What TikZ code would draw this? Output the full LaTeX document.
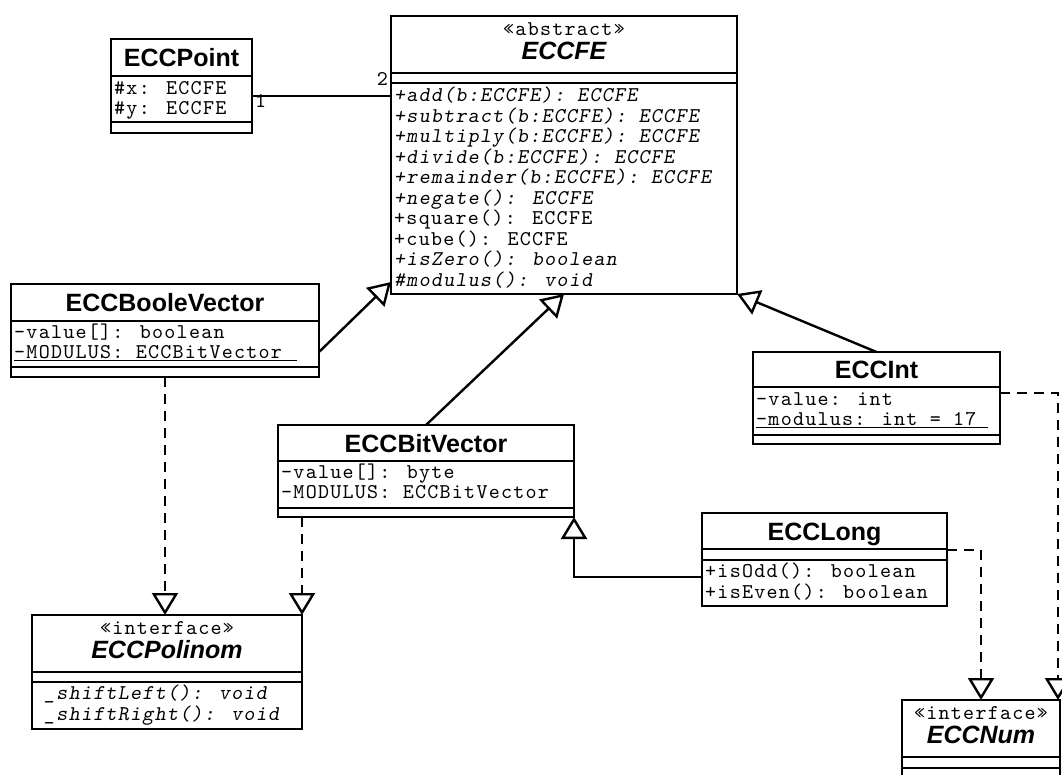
\documentclass[tikz,border=0pt]{standalone}
\usepackage{fontspec}
\usetikzlibrary{arrows.meta,calc}
\newfontfamily\monof{lmmono10-regular.otf}[ItalicFont=lmmonoslant10-regular.otf, LetterSpace=6]
\newfontfamily\sansf{Liberation Sans}
\newcommand\mtxt{\monof\fontsize{21}{20.5}\selectfont}
\newcommand\ttxt{\sansf\bfseries\fontsize{25}{25}\selectfont}
\newcommand\itxt{\sansf\bfseries\itshape\fontsize{25}{25}\selectfont}
\tikzset{
  cls/.style={draw, line width=2.4pt, fill=white, inner sep=0pt, outer sep=0pt, anchor=north west},
  secline/.style={line width=2.4pt},
  mono/.style={font=\mtxt, inner sep=0pt, anchor=base west},
  imono/.style={font=\mtxt\itshape, inner sep=0pt, anchor=base west},
  stereo/.style={font=\mtxt, inner sep=0pt, anchor=base},
  ttl/.style={font=\ttxt, inner sep=0pt, anchor=base},
  ittl/.style={font=\itxt, inner sep=0pt, anchor=base},
  gen/.style={line width=2.4pt, -{Triangle[length=22pt, width=26pt, fill=white]}},
  real/.style={gen, dash pattern=on 10pt off 7pt},
  assoc/.style={line width=2.4pt},
  uline/.style={line width=1.3pt},
}
\begin{document}
\begin{tikzpicture}[x=1pt, y=-1pt]
\clip (0,0) rectangle (1062,775);
\fill[white] (0,0) rectangle (1062,775);

% ---------- class boxes ----------
\node[cls, minimum width=141pt, minimum height=94pt] (pt) at (111,39) {};
\draw[secline] ([yshift=-37pt]pt.north west) -- ([yshift=-37pt]pt.north east);
\draw[secline] ([yshift=-83pt]pt.north west) -- ([yshift=-83pt]pt.north east);

\node[cls, minimum width=346pt, minimum height=278pt] (fe) at (391,16) {};
\draw[secline] ([yshift=-57pt]fe.north west) -- ([yshift=-57pt]fe.north east);
\draw[secline] ([yshift=-67pt]fe.north west) -- ([yshift=-67pt]fe.north east);

\node[cls, minimum width=308pt, minimum height=93pt] (bv) at (11,284) {};
\draw[secline] ([yshift=-37pt]bv.north west) -- ([yshift=-37pt]bv.north east);
\draw[secline] ([yshift=-83pt]bv.north west) -- ([yshift=-83pt]bv.north east);

\node[cls, minimum width=296pt, minimum height=92pt] (bit) at (278,425) {};
\draw[secline] ([yshift=-36pt]bit.north west) -- ([yshift=-36pt]bit.north east);
\draw[secline] ([yshift=-83pt]bit.north west) -- ([yshift=-83pt]bit.north east);

\node[cls, minimum width=247pt, minimum height=92pt] (int) at (753,352) {};
\draw[secline] ([yshift=-35pt]int.north west) -- ([yshift=-35pt]int.north east);
\draw[secline] ([yshift=-83pt]int.north west) -- ([yshift=-83pt]int.north east);

\node[cls, minimum width=245pt, minimum height=93pt] (long) at (702,513) {};
\draw[secline] ([yshift=-36pt]long.north west) -- ([yshift=-36pt]long.north east);
\draw[secline] ([yshift=-47pt]long.north west) -- ([yshift=-47pt]long.north east);

\node[cls, minimum width=270pt, minimum height=114pt] (pol) at (32,615) {};
\draw[secline] ([yshift=-57pt]pol.north west) -- ([yshift=-57pt]pol.north east);
\draw[secline] ([yshift=-67pt]pol.north west) -- ([yshift=-67pt]pol.north east);

\node[cls, minimum width=158pt, minimum height=100pt] (num) at (902,700) {};
\draw[secline] ([yshift=-57pt]num.north west) -- ([yshift=-57pt]num.north east);
\draw[secline] ([yshift=-68pt]num.north west) -- ([yshift=-68pt]num.north east);

% ---------- texts ----------
\node[ttl] (ptT) at (181.5,66.5) {ECCPoint};
\node[mono] (pt1) at (114,94.3) {\#x: ECCFE};
\node[mono] (pt2) at (114,114.5) {\#y: ECCFE};

\node[stereo] (feS) at (564,35.5) {«abstract»};
\node[ittl] (feT) at (564,59.5) {ECCFE};
\node[imono] (fe1) at (394,102) {+add(b:ECCFE): ECCFE};
\node[imono] (fe2) at (394,122.5) {+subtract(b:ECCFE): ECCFE};
\node[imono] (fe3) at (394,143) {+multiply(b:ECCFE): ECCFE};
\node[imono] (fe4) at (394,163.5) {+divide(b:ECCFE): ECCFE};
\node[imono] (fe5) at (394,184) {+remainder(b:ECCFE): ECCFE};
\node[imono] (fe6) at (394,204.5) {+negate(): ECCFE};
\node[mono]  (fe7) at (394,225) {+square(): ECCFE};
\node[mono]  (fe8) at (394,245.5) {+cube(): ECCFE};
\node[imono] (fe9) at (394,266) {+isZero(): boolean};
\node[imono] (fe10) at (394,286.5) {\#modulus(): void};

\node[ttl] (bvT) at (165,311.5) {ECCBooleVector};
\node[mono] (bv1) at (14,338.3) {-value[]: boolean};
\node[mono] (bv2) at (14,358.3) {-MODULUS: ECCBitVector};
\draw[uline] ([yshift=-2.2pt]bv2.base west) -- ++(283,0);

\node[ttl] (bitT) at (426,452) {ECCBitVector};
\node[mono] (bit1) at (281,478.3) {-value[]: byte};
\node[mono] (bit2) at (281,498.3) {-MODULUS: ECCBitVector};

\node[ttl] (intT) at (876.5,378) {ECCInt};
\node[mono] (int1) at (756,405) {-value: int};
\node[mono] (int2) at (756,425) {-modulus: int = 17};
\draw[uline] ([yshift=-2.2pt]int2.base west) -- ++(232,0);

\node[ttl] (longT) at (824.5,540) {ECCLong};
\node[mono] (long1) at (705,577.5) {+isOdd(): boolean};
\node[mono] (long2) at (705,598) {+isEven(): boolean};

\node[stereo] (polS) at (167,634.5) {«interface»};
\node[ittl] (polT) at (167,658) {ECCPolinom};
\node[imono] (pol1) at (44,699.5) {\_shiftLeft(): void};
\node[imono] (pol2) at (44,720) {\_shiftRight(): void};

\node[stereo] (numS) at (981,719.5) {«interface»};
\node[ittl] (numT) at (981,743) {ECCNum};

% ---------- connectors ----------
\draw[assoc] ([yshift=-10pt]pt.east) -- ([yshift=-10pt]pt.east -| fe.west);
\node[mono] (m1) at (255,108) {1};
\node[font=\mtxt, inner sep=0pt, anchor=base east] (m2) at (388,86) {2};

\draw[gen] ([yshift=-21.5pt]bv.east) -- ([yshift=12pt]fe.south west);
\draw[gen] (bit.north) -- (fe.south);
\draw[gen] (int.north) -- (fe.south east);
\draw[gen] ([yshift=-17.5pt]long.west) -| (bit.south east);

\draw[real] (bv.south) -- (bv.south |- pol.north);
\draw[real] (pol.north east |- bit.south) -- (pol.north east);
\draw[real] ([yshift=5pt]int.east) -| ([xshift=-2pt]num.north east);
\draw[real] ([yshift=9.5pt]long.east) -| (num.north);
\end{tikzpicture}
\end{document}
